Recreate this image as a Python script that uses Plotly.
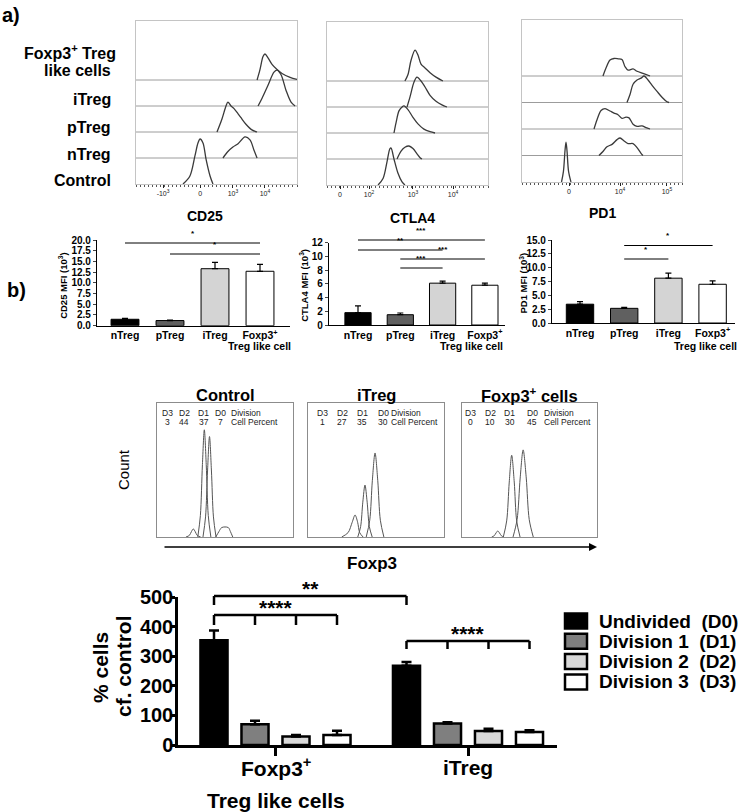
import plotly.graph_objects as go

W, H = 744, 812
FONT = "Arial, Liberation Sans, Helvetica, sans-serif"

# ---------------- Panel a: flow histograms (x: display-scale position 0-100, y: height in row units)
cd25_tickvals = [16.8, 39.8, 60.2, 80.1]
cd25_ticktext = ["-10<sup>3</sup>", "0", "10<sup>3</sup>", "10<sup>4</sup>"]
cd25_control_x = [29.2, 33.5, 36.6, 38.5, 39.8, 41.6, 43.5, 46.0, 47.8]
cd25_control_y = [0, 0.31, 1.08, 1.58, 1.73, 1.58, 0.96, 0.31, 0]
cd25_ntreg_x = [54.0, 57.1, 60.2, 63.4, 67.7, 70.8, 73.3, 75.2]
cd25_ntreg_y = [0, 0.25, 0.42, 0.55, 0.81, 0.7, 0.3, 0]
cd25_ptreg_x = [50.3, 53.4, 55.9, 57.1, 59.0, 60.9, 63.4, 65.2, 68.3, 72.0, 75.2]
cd25_ptreg_y = [0, 0.5, 1.0, 1.15, 1.0, 0.9, 0.7, 0.55, 0.3, 0.08, 0]
cd25_itreg_x = [75.8, 78.3, 82.0, 85.7, 87.6, 90.1, 93.2, 96.3, 98.8]
cd25_itreg_y = [0, 0.3, 0.8, 1.3, 1.38, 1.2, 0.6, 0.15, 0]
cd25_foxp3_x = [75.2, 77.0, 78.9, 80.1, 82.0, 84.5, 87.6, 90.7, 95.7, 100]
cd25_foxp3_y = [0, 0.4, 0.9, 1.0, 0.85, 0.6, 0.4, 0.25, 0.1, 0.02]

ctla4_tickvals = [8.1, 26.1, 53.4, 78.3]
ctla4_ticktext = ["0", "10<sup>2</sup>", "10<sup>3</sup>", "10<sup>4</sup>"]
ctla4_control_x = [31.7, 34.8, 37.3, 39.1, 39.8, 41.6, 44.1, 46.6, 48.4]
ctla4_control_y = [0, 0.25, 0.9, 1.4, 1.42, 1.0, 0.45, 0.12, 0]
ctla4_ntreg_x = [43.5, 46.0, 48.4, 50.9, 53.4, 55.9, 57.8, 59.0]
ctla4_ntreg_y = [0, 0.3, 0.45, 0.5, 0.4, 0.2, 0.05, 0]
ctla4_ptreg_x = [41.6, 42.9, 44.7, 46.6, 47.8, 50.3, 53.4, 56.5, 60.2, 64.0, 67.1]
ctla4_ptreg_y = [0, 0.4, 0.85, 1.0, 1.04, 0.9, 0.6, 0.35, 0.15, 0.05, 0]
ctla4_itreg_x = [49.7, 51.6, 54.0, 55.9, 58.4, 60.9, 64.0, 67.7, 71.4, 74.5]
ctla4_itreg_y = [0, 0.4, 0.95, 1.15, 1.0, 0.77, 0.45, 0.22, 0.08, 0]
ctla4_foxp3_x = [48.4, 50.3, 52.2, 54.7, 56.5, 58.4, 60.9, 64.0, 67.7, 72.0]
ctla4_foxp3_y = [0, 0.25, 0.8, 1.19, 1.0, 0.65, 0.5, 0.32, 0.15, 0]

pd1_tickvals = [29.4, 61.3, 90.6]
pd1_ticktext = ["0", "10<sup>4</sup>", "10<sup>5</sup>"]
pd1_control_x = [24.7, 25.9, 26.9, 27.5, 28.1, 29.1, 30.6]
pd1_control_y = [0, 0.4, 1.2, 1.5, 1.2, 0.4, 0]
pd1_ntreg_x = [48.1, 50.6, 53.1, 56.3, 59.4, 61.3, 63.8, 66.3, 69.4, 71.9, 74.4, 75.6]
pd1_ntreg_y = [0, 0.15, 0.33, 0.42, 0.6, 0.66, 0.55, 0.45, 0.45, 0.3, 0.08, 0]
pd1_ptreg_x = [45.0, 46.9, 49.4, 51.9, 55.0, 57.5, 60.0, 62.5, 65.0, 66.9, 69.4, 71.9, 75.0, 77.5, 80.0]
pd1_ptreg_y = [0, 0.35, 0.7, 0.77, 0.68, 0.6, 0.54, 0.4, 0.45, 0.42, 0.18, 0.1, 0.12, 0.05, 0]
pd1_itreg_x = [65.6, 67.5, 69.4, 71.9, 74.4, 76.3, 78.8, 81.3, 84.4, 87.5, 90.6, 91.9]
pd1_itreg_y = [0, 0.3, 0.69, 0.85, 0.92, 1.0, 0.85, 0.65, 0.42, 0.2, 0.03, 0]
pd1_foxp3_x = [50.6, 52.5, 55.0, 57.5, 60.0, 62.5, 64.4, 66.3, 69.4, 71.9, 75.6, 80.0]
pd1_foxp3_y = [0, 0.3, 0.6, 0.66, 0.65, 0.62, 0.35, 0.22, 0.27, 0.18, 0.1, 0]

# ---------------- Panel a: MFI bar charts
mfi_cats = ["nTreg", "pTreg", "iTreg", "Foxp3"]
mfi_ticktext = ["nTreg", "pTreg", "iTreg", "Foxp3<sup>+</sup>"]
mfi_sub_label = "Treg like cell"
mfi_colors = ["#000000", "#606060", "#d4d4d4", "#ffffff"]
cd25_mfi = [1.5, 1.2, 13.3, 12.7]
cd25_err = [0.2, 0.1, 1.5, 1.6]
ctla4_mfi = [1.8, 1.5, 6.1, 5.8]
ctla4_err = [1.0, 0.25, 0.3, 0.3]
pd1_mfi = [3.4, 2.65, 8.1, 7.0]
pd1_err = [0.45, 0.2, 0.9, 0.6]
cd25_sig = [(0, 3, "*"), (1, 3, "*")]
ctla4_sig = [(0, 3, "***"), (0, 2, "**"), (1, 3, "***"), (1, 2, "***")]
pd1_sig = [(1, 3, "*"), (1, 2, "*")]

# ---------------- Panel b: proliferation histograms (x 0-100, y % of max)
div_labels = ["D3", "D2", "D1", "D0"]
ctrl_pct = [3, 44, 37, 7]
itreg_pct = [1, 27, 35, 30]
foxp3_pct = [0, 10, 30, 45]
ctrl_d3_x = [21.3, 23.8, 25.3, 26.7, 28.1, 29.6, 32.1]
ctrl_d3_y = [0, 1.2, 4, 6, 4, 1.2, 0]
ctrl_d2_x = [30.0, 31.9, 33.4, 34.8, 36.2, 37.7, 39.6]
ctrl_d2_y = [0, 16, 54, 80, 54, 16, 0]
ctrl_d1_x = [33.8, 35.7, 37.2, 38.6, 40.0, 41.5, 43.4]
ctrl_d1_y = [0, 15, 50, 75, 50, 15, 0]
ctrl_d0_x = [43.2, 45.5, 47.5, 50.0, 52.5, 54.0, 55.7]
ctrl_d0_y = [0, 4, 7, 7.5, 7, 4, 0]
itreg_d3_x = [24.8, 29.5, 32.5, 34.6, 36.5, 38.0, 40.5]
itreg_d3_y = [0, 3.3, 11, 16.4, 11, 3.3, 0]
itreg_d2_x = [36.6, 38.7, 40.3, 41.9, 43.5, 45.1, 47.2]
itreg_d2_y = [0, 7.8, 26, 38.8, 26, 7.8, 0]
itreg_d1_x = [42.8, 45.4, 47.3, 49.3, 51.3, 53.2, 55.8]
itreg_d1_y = [0, 12.5, 42, 62.7, 42, 12.5, 0]
foxp3_d2_x = [22.0, 23.8, 25.2, 26.5, 27.8, 29.2, 31.0]
foxp3_d2_y = [0, 0.9, 3, 4.5, 3, 0.9, 0]
foxp3_d1_x = [30.6, 33.1, 35.0, 36.8, 38.7, 40.5, 43.0]
foxp3_d1_y = [0, 12, 41, 61, 41, 12, 0]
foxp3_d0_x = [37.8, 40.8, 43.1, 45.3, 47.6, 49.8, 52.8]
foxp3_d0_y = [0, 13, 44, 65, 44, 13, 0]

# ---------------- Panel b: % cells bar chart
groups = ["Foxp3+ Treg like cells", "iTreg"]
divisions = ["Undivided  (D0)", "Division 1  (D1)", "Division 2  (D2)", "Division 3  (D3)"]
div_colors = ["#000000", "#7f7f7f", "#d9d9d9", "#ffffff"]
d0_vals = [354, 268]
d0_err = [33, 12]
d1_vals = [70, 73]
d1_err = [12, 4]
d2_vals = [29, 47]
d2_err = [5, 8]
d3_vals = [34, 44]
d3_err = [14, 6]
div_vals = [d0_vals, d1_vals, d2_vals, d3_vals]
div_errs = [d0_err, d1_err, d2_err, d3_err]

# ================= helpers
def px(x):
    return x / W

def py(y):
    return 1 - y / H

def names(n):
    s = "" if n == 1 else str(n)
    return "xaxis" + s, "yaxis" + s, "x" + s, "y" + s

fig = go.Figure()
layout = {}
annotations = []
shapes = []

def text(t, x, y, size, bold=True, xanchor="center", yanchor="middle", angle=0, color="black"):
    annotations.append(dict(
        text=t, x=px(x), y=py(y), xref="paper", yref="paper", showarrow=False,
        xanchor=xanchor, yanchor=yanchor, textangle=angle,
        font=dict(family=FONT, size=size, color=color, weight="bold" if bold else "normal")))

# ================= Panel a histograms
hist_panels = [
    dict(n=1, box=(136, 297, 21, 184), unit=26, tv=cd25_tickvals, tt=cd25_ticktext,
         curves=[(cd25_control_x, cd25_control_y), (cd25_ntreg_x, cd25_ntreg_y), (cd25_ptreg_x, cd25_ptreg_y),
                 (cd25_itreg_x, cd25_itreg_y), (cd25_foxp3_x, cd25_foxp3_y)]),
    dict(n=2, box=(327, 488, 22, 185), unit=26, tv=ctla4_tickvals, tt=ctla4_ticktext,
         curves=[(ctla4_control_x, ctla4_control_y), (ctla4_ntreg_x, ctla4_ntreg_y), (ctla4_ptreg_x, ctla4_ptreg_y),
                 (ctla4_itreg_x, ctla4_itreg_y), (ctla4_foxp3_x, ctla4_foxp3_y)]),
    dict(n=3, box=(522, 682, 20, 182), unit=26.5, tv=pd1_tickvals, tt=pd1_ticktext,
         curves=[(pd1_control_x, pd1_control_y), (pd1_ntreg_x, pd1_ntreg_y), (pd1_ptreg_x, pd1_ptreg_y),
                 (pd1_itreg_x, pd1_itreg_y), (pd1_foxp3_x, pd1_foxp3_y)]),
]
for p in hist_panels:
    xa, ya, xr, yr = names(p["n"])
    l, r, t, b = p["box"]
    top = (b - t) / p["unit"]
    layout[xa] = dict(domain=[px(l), px(r)], range=[0, 100], anchor=yr, showline=True, mirror=True,
                      linecolor="#c4c4c4", linewidth=1, ticks="outside", ticklen=3, tickcolor="#222",
                      tickmode="array", tickvals=p["tv"], ticktext=p["tt"], tickangle=0,
                      tickfont=dict(family=FONT, size=7, color="#222"),
                      minor=dict(tickmode="linear", tick0=0, dtick=2.5, ticks="outside", ticklen=2,
                                 tickcolor="#555", showgrid=False),
                      showgrid=False, zeroline=False, fixedrange=True, automargin=False)
    layout[ya] = dict(domain=[py(b), py(t)], range=[0, top], anchor=xr, showline=True, mirror=True,
                      linecolor="#c4c4c4", linewidth=1, showticklabels=False, ticks="",
                      showgrid=False, zeroline=False, fixedrange=True, automargin=False)
    for k in range(1, 5):
        fig.add_trace(go.Scatter(x=[0, 100], y=[k, k], mode="lines", line=dict(color="#9c9c9c", width=1),
                                 xaxis=xr, yaxis=yr, hoverinfo="skip"))
    for k, (cx, cy) in enumerate(p["curves"]):
        fig.add_trace(go.Scatter(x=cx, y=[v + k for v in cy], mode="lines",
                                 line=dict(color="#3a3a3a", width=1.3, shape="spline", smoothing=0.9),
                                 xaxis=xr, yaxis=yr, hoverinfo="skip"))

# row labels
text("Foxp3<sup>+</sup> Treg", 118, 52, 16, xanchor="right")
text("like cells", 113, 70, 16, xanchor="right")
for lab, yy in zip(["iTreg", "pTreg", "nTreg", "Control"], [100, 127, 154, 181]):
    text(lab, 113, yy, 16, xanchor="right")
text("a)", 11, 15, 20)
text("CD25", 205, 216, 14)
text("CTLA4", 413, 218, 14)
text("PD1", 602, 213, 14)

# ================= Panel a MFI bar charts
bar_panels = [
    dict(n=4, xdom=(97, 290), ydom=(240, 325.7), c0=125, step=45, ymax=20, dtick=2.5, fmt=".1f",
         vals=cd25_mfi, err=cd25_err, sig=cd25_sig, sig_y=[243, 254], title="CD25 MFI (10<sup>3</sup>)", tx=63, subx=259),
    dict(n=5, xdom=(329, 505), ydom=(242.7, 325), c0=358, step=42.3, ymax=12, dtick=2, fmt="d",
         vals=ctla4_mfi, err=ctla4_err, sig=ctla4_sig, sig_y=[240, 250, 259, 268], title="CTLA4 MFI (10<sup>3</sup>)", tx=304, subx=471),
    dict(n=6, xdom=(552, 735), ydom=(240, 323), c0=580, step=44.2, ymax=15, dtick=2.5, fmt=".1f",
         vals=pd1_mfi, err=pd1_err, sig=pd1_sig, sig_y=[245.5, 259], title="PD1 MFI (10<sup>3</sup>)", tx=523, subx=705),
]
for p in bar_panels:
    xa, ya, xr, yr = names(p["n"])
    x0, x1 = p["xdom"]
    yt, yb = p["ydom"]
    fig.add_trace(go.Bar(x=mfi_cats, y=p["vals"], width=0.62,
                         marker=dict(color=mfi_colors, line=dict(color="black", width=1)),
                         error_y=dict(type="data", array=p["err"], arrayminus=[0] * 4, symmetric=False,
                                      color="black", thickness=1.2, width=3),
                         xaxis=xr, yaxis=yr, hoverinfo="skip"))
    layout[xa] = dict(domain=[px(x0), px(x1)], type="category", categoryorder="array", categoryarray=mfi_cats,
                      range=[(x0 - p["c0"]) / p["step"], (x1 - p["c0"]) / p["step"]], anchor=yr,
                      showline=True, linecolor="black", linewidth=1.2, ticks="", tickangle=0,
                      tickmode="array", tickvals=mfi_cats, ticktext=mfi_ticktext,
                      tickfont=dict(family=FONT, size=10.5, color="black", weight="bold"),
                      showgrid=False, zeroline=False, fixedrange=True, automargin=False)
    layout[ya] = dict(domain=[py(yb), py(yt)], range=[0, p["ymax"]], dtick=p["dtick"], tickformat=p["fmt"],
                      anchor=xr, showline=True, linecolor="black", linewidth=1.2, ticks="outside",
                      ticklen=3, tickwidth=1.2, tickfont=dict(family=FONT, size=10, color="black", weight="bold"),
                      showgrid=False, zeroline=False, fixedrange=True, automargin=False)
    for (i, j, lab), yy in zip(p["sig"], p["sig_y"]):
        shapes.append(dict(type="line", xref=xr, yref="paper", x0=i, x1=j, y0=py(yy), y1=py(yy),
                           line=dict(color="black", width=1)))
        annotations.append(dict(text=lab, x=(i + j) / 2, y=py(yy - 3), xref=xr, yref="paper",
                                showarrow=False, yanchor="bottom",
                                font=dict(family=FONT, size=8, color="black", weight="bold")))
    text(p["title"], p["tx"], (yt + yb) / 2 + 2, 9.5, angle=-90)
    text(mfi_sub_label, p["subx"], 346, 10.5)

# ================= Panel b histograms
b_panels = [
    dict(n=7, box=(157, 293, 403, 537), title="Control", pct=ctrl_pct, cols=[167, 184, 204, 220, 229],
         curves=[(ctrl_d3_x, ctrl_d3_y), (ctrl_d2_x, ctrl_d2_y), (ctrl_d1_x, ctrl_d1_y), (ctrl_d0_x, ctrl_d0_y)]),
    dict(n=8, box=(308, 444, 403, 537), title="iTreg", pct=itreg_pct, cols=[322, 342, 362, 383, 389],
         curves=[(itreg_d3_x, itreg_d3_y), (itreg_d2_x, itreg_d2_y), (itreg_d1_x, itreg_d1_y)]),
    dict(n=9, box=(462, 597, 403, 537), title="Foxp3<sup>+</sup> cells", pct=foxp3_pct, cols=[470, 490, 510, 532, 542],
         curves=[(foxp3_d2_x, foxp3_d2_y), (foxp3_d1_x, foxp3_d1_y), (foxp3_d0_x, foxp3_d0_y)]),
]
for p in b_panels:
    xa, ya, xr, yr = names(p["n"])
    l, r, t, b = p["box"]
    layout[xa] = dict(domain=[px(l), px(r)], range=[0, 100], anchor=yr, showline=True, mirror=True,
                      linecolor="#8c8c8c", linewidth=1, showticklabels=False, ticks="",
                      showgrid=False, zeroline=False, fixedrange=True, automargin=False)
    layout[ya] = dict(domain=[py(b), py(t)], range=[0, 100], anchor=xr, showline=True, mirror=True,
                      linecolor="#8c8c8c", linewidth=1, showticklabels=False, ticks="",
                      showgrid=False, zeroline=False, fixedrange=True, automargin=False)
    for cx, cy in p["curves"]:
        fig.add_trace(go.Scatter(x=cx, y=cy, mode="lines",
                                 line=dict(color="#555", width=1, shape="spline", smoothing=0.9),
                                 xaxis=xr, yaxis=yr, hoverinfo="skip"))
    text(p["title"], (l + r) / 2, 395, 16.5)
    cols = p["cols"]
    for k in range(4):
        text(div_labels[k], cols[k], 413, 8.5, bold=False, color="#222")
        text(str(p["pct"][k]), cols[k], 422, 8.5, bold=False, color="#222")
    text("Division", cols[4], 413, 8.5, bold=False, xanchor="left", color="#222")
    text("Cell Percent", cols[4], 422, 8.5, bold=False, xanchor="left", color="#222")

text("b)", 16, 290, 20)
text("Count", 123, 470, 15, bold=False, angle=-90)
text("Foxp3", 372, 563, 17)
annotations.append(dict(x=px(597), y=py(547), ax=-(597 - 163), ay=0, xref="paper", yref="paper",
                        axref="pixel", ayref="pixel", showarrow=True, arrowhead=2, arrowsize=1,
                        arrowwidth=1.6, arrowcolor="black", text="", standoff=0))

# ================= Panel b bar chart
BARGAP, GROUPGAP = 0.148, 0.34
for k in range(4):
    fig.add_trace(go.Bar(x=groups, y=div_vals[k], name=divisions[k],
                         marker=dict(color=div_colors[k], line=dict(color="black", width=2.5)),
                         error_y=dict(type="data", array=div_errs[k], arrayminus=[0, 0], symmetric=False,
                                      color="black", thickness=2.5, width=5),
                         xaxis="x10", yaxis="y10", hoverinfo="skip"))
layout["xaxis10"] = dict(domain=[px(178), px(557)], type="category", categoryorder="array", categoryarray=groups,
                         range=[(178 - 275.5) / 192.5, (557 - 275.5) / 192.5], anchor="y10", showline=True,
                         linecolor="black", linewidth=2.5,
                         ticks="outside", ticklen=8, tickwidth=2.5, tickcolor="black", showticklabels=False,
                         showgrid=False, zeroline=False, fixedrange=True, automargin=False)
layout["yaxis10"] = dict(domain=[py(745), py(597)], range=[0, 500], dtick=100, anchor="x10",
                         showline=True, linecolor="black", linewidth=2.5, ticks="outside", ticklen=4,
                         tickwidth=2.5, tickcolor="black", ticklabelstandoff=-6,
                         tickfont=dict(family=FONT, size=20, color="black", weight="bold"),
                         showgrid=False, zeroline=False, fixedrange=True, automargin=False)

def gpos(g, d):
    slot = (1 - BARGAP) / 4
    return g - (1 - BARGAP) / 2 + (d + 0.5) * slot

brackets = [
    dict(xs=[gpos(0, 0), gpos(1, 0)], y=596, drop=605, label="**", ly=588),
    dict(xs=[gpos(0, d) for d in range(4)], y=615, drop=625, label="****", ly=607),
    dict(xs=[gpos(1, d) for d in range(4)], y=641, drop=649, label="****", ly=633),
]
for br in brackets:
    xs = br["xs"]
    shapes.append(dict(type="line", xref="x10", yref="paper", x0=xs[0], x1=xs[-1], y0=py(br["y"]), y1=py(br["y"]),
                       line=dict(color="black", width=2.5)))
    for xv in xs:
        shapes.append(dict(type="line", xref="x10", yref="paper", x0=xv, x1=xv, y0=py(br["y"]), y1=py(br["drop"]),
                           line=dict(color="black", width=2.5)))
    annotations.append(dict(text=br["label"], x=(xs[0] + xs[-1]) / 2, y=py(br["ly"]), xref="x10", yref="paper",
                            showarrow=False, yanchor="middle",
                            font=dict(family=FONT, size=21, color="black", weight="bold")))

text("Foxp3<sup>+</sup>", 276, 767, 21)
text("Treg like cells", 276, 800, 21)
text("iTreg", 468, 767, 21)
text("% cells", 100, 668, 21, angle=-90)
text("cf. control", 123, 666, 21, angle=-90)

# legend
for k in range(4):
    yc = 621 + 20.3 * k
    shapes.append(dict(type="rect", xref="paper", yref="paper", x0=px(565), x1=px(587), y0=py(yc - 7.5), y1=py(yc + 7.5),
                       fillcolor=div_colors[k], line=dict(color="black", width=2.5)))
    text(divisions[k], 597, yc, 19, xanchor="left")

fig.update_layout(width=W, height=H, margin=dict(l=0, r=0, t=0, b=0, autoexpand=False), paper_bgcolor="white",
                  plot_bgcolor="rgba(0,0,0,0)", showlegend=False, barmode="group",
                  bargap=BARGAP, bargroupgap=GROUPGAP, annotations=annotations, shapes=shapes,
                  font=dict(family=FONT), **layout)
fig.write_html("out.html", config={"displayModeBar": False},
               post_script="document.body.style.margin='0';document.body.style.overflow='hidden';")
